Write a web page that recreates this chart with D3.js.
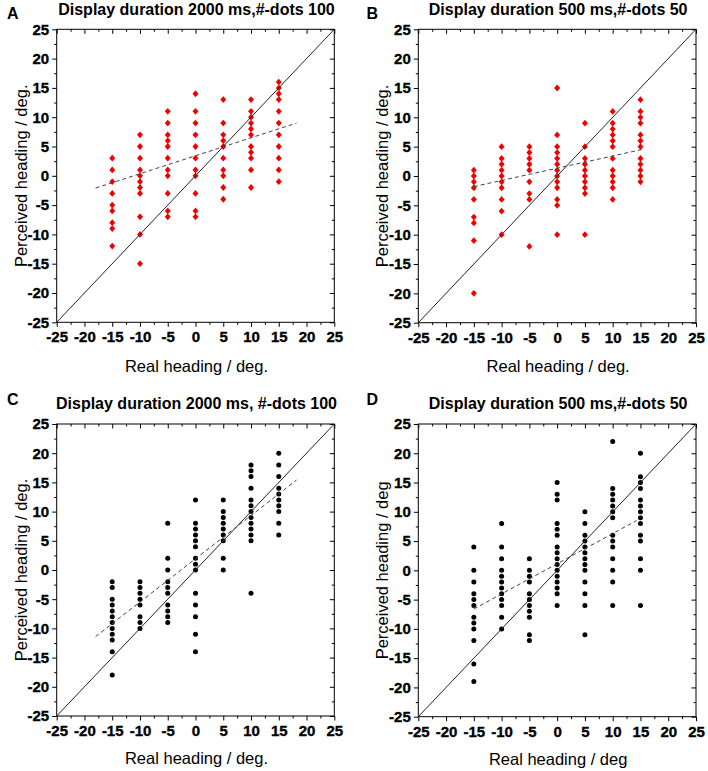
<!DOCTYPE html>
<html><head><meta charset="utf-8">
<script src="https://cdn.jsdelivr.net/npm/d3@7"></script>
<style>body{margin:0;background:#fff} svg{display:block}
.tk text{font-family:'Liberation Sans',Arial,Helvetica,sans-serif;font-size:15px;font-weight:700;fill:#000;stroke:#000;stroke-width:0.35px}
</style>
</head><body><svg id="c" width="708" height="771"></svg>
<script>
// Real heading categories (deg.)
const headings = [-15, -10, -5, 0, 5, 10, 15];
const tickValues = [-25, -20, -15, -10, -5, 0, 5, 10, 15, 20, 25];
const minorTicks = [-22.5, -17.5, -12.5, -7.5, -2.5, 2.5, 7.5, 12.5, 17.5, 22.5];

// Perceived heading per real heading (one list per column)
const perceivedA = [
  [3, 1, -1, -3, -5, -6, -8, -9, -12],
  [7, 5, 3, 1, 0, -1, -2, -3, -7, -10, -15],
  [11, 9, 7, 6, 5, 3, 1, 0, -3, -6, -7],
  [14, 11, 9, 7, 5, 3, 1, 0, -3, -6, -7],
  [13, 9, 7, 6, 5, 3, 1, 0, -2, -4],
  [13, 11, 10, 9, 8, 7, 5, 4, 3, 1, -2],
  [16, 15, 14, 13, 11, 9, 7, 5, 3, 1, -1]
];
const perceivedB = [
  [1, 0, -1, -2, -4, -7, -8, -11, -20],
  [5, 3, 2, 1, 0, -1, -2, -4, -6, -10],
  [5, 4, 3, 2, 1, -1, -3, -4, -12],
  [15, 7, 5, 4, 3, 2, 1, 0, -1, -2, -4, -5, -10],
  [9, 5, 3, 2, 1, 0, -1, -2, -3, -10],
  [11, 9, 8, 7, 6, 5, 3, 1, 0, -1, -2, -4],
  [13, 11, 10, 9, 7, 6, 5, 3, 2, 1, 0, -1]
];
const perceivedC = [
  [-2, -3, -5, -6, -7, -8, -9, -10, -11, -12, -14, -18],
  [-2, -3, -4, -5, -6, -8, -9, -10],
  [8, 2, 0, -2, -3, -4, -6, -7, -8, -9],
  [12, 8, 7, 6, 5, 4, 2, 1, 0, -4, -6, -8, -11, -14],
  [12, 10, 9, 8, 7, 6, 5, 2, 0],
  [18, 17, 16, 14, 12, 11, 10, 9, 8, 7, 6, 5, -4],
  [20, 18, 16, 14, 13, 12, 11, 10, 8, 6]
];
const perceivedD = [
  [4, 0, -2, -4, -5, -6, -8, -9, -10, -12, -16, -19],
  [8, 4, 2, 0, -1, -2, -3, -4, -5, -6, -8, -10],
  [2, 0, -1, -2, -4, -5, -6, -7, -8, -11, -12],
  [15, 13, 12, 8, 7, 6, 4, 3, 2, 1, 0, -1, -2, -3, -4, -6],
  [10, 8, 6, 5, 4, 3, 2, 1, 0, -2, -4, -6, -11],
  [22, 14, 13, 12, 11, 10, 9, 6, 5, 4, 2, 0, -2, -6],
  [20, 16, 15, 14, 12, 11, 10, 9, 8, 6, 5, 2, 0, -6]
];

// Regression line end points [real, perceived]
const fitA = [[-18, -2.1], [18.2, 9]];
const fitB = [[-15, -1.8], [15.2, 4.5]];
const fitC = [[-18, -11.4], [18.2, 15.4]];
const fitD = [[-15, -6.6], [14.3, 8.5]];

const panels = [
  {letter: "A", title: "Display duration 2000 ms,#-dots 100", data: perceivedA, fit: fitA, marker: "diamond",
   box: {l: 56.7, r: 334.3, t: 29.3, b: 322.3}, titleY: 15, letterX: 7, letterY: 18.5, yTitleX: 21, xTitleY: 366,
   xLabel: "Real heading / deg.", yLabel: "Perceived heading / deg."},
  {letter: "B", title: "Display duration 500 ms,#-dots 50", data: perceivedB, fit: fitB, marker: "diamond",
   box: {l: 418.3, r: 696, t: 29.3, b: 322.7}, titleY: 15, letterX: 366.5, letterY: 18.5, yTitleX: 382, xTitleY: 366,
   xLabel: "Real heading / deg.", yLabel: "Perceived heading / deg."},
  {letter: "C", title: "Display duration 2000 ms, #-dots 100", data: perceivedC, fit: fitC, marker: "circle",
   box: {l: 56.7, r: 334.3, t: 424, b: 716}, titleY: 409, letterX: 7, letterY: 404.5, yTitleX: 21, xTitleY: 758,
   xLabel: "Real heading / deg.", yLabel: "Perceived heading / deg."},
  {letter: "D", title: "Display duration 500 ms,#-dots 50", data: perceivedD, fit: fitD, marker: "circle",
   box: {l: 418.3, r: 696, t: 424, b: 716.7}, titleY: 409, letterX: 366.5, letterY: 404.5, yTitleX: 382, xTitleY: 759,
   xLabel: "Real heading / deg", yLabel: "Perceived heading / deg"}
];

const svg = d3.select("#c");
const FONT = "'Liberation Sans', Arial, Helvetica, sans-serif";
const fmt = d => String(d);

panels.forEach(p => {
  const B = p.box;
  const x = d3.scaleLinear().domain([-25, 25]).range([B.l, B.r]);
  const y = d3.scaleLinear().domain([-25, 25]).range([B.b, B.t]);
  const g = svg.append("g");

  // minor ticks
  const minorAx = [
    [d3.axisBottom(x).tickValues(minorTicks).tickSize(2.5).tickFormat(""), B.b, "x"],
    [d3.axisTop(x).tickValues(minorTicks).tickSize(-2.5).tickFormat(""), B.t, "x"],
    [d3.axisLeft(y).tickValues(minorTicks).tickSize(2.5).tickFormat(""), B.l, "y"],
    [d3.axisRight(y).tickValues(minorTicks).tickSize(-2.5).tickFormat(""), B.r, "y"]
  ];
  minorAx.forEach(([ax, pos, dir]) => {
    const a = g.append("g").attr("transform", dir === "x" ? `translate(0,${pos})` : `translate(${pos},0)`).call(ax);
    a.select(".domain").remove();
    a.selectAll("line").attr("stroke", "#000").attr("stroke-width", 1);
  });

  // major axes
  const xb = g.append("g").attr("transform", `translate(0,${B.b})`)
    .call(d3.axisBottom(x).tickValues(tickValues).tickSize(4.5).tickPadding(5).tickFormat(fmt));
  const xt = g.append("g").attr("transform", `translate(0,${B.t})`)
    .call(d3.axisTop(x).tickValues(tickValues).tickSize(-4.5).tickFormat(""));
  const yl = g.append("g").attr("transform", `translate(${B.l},0)`)
    .call(d3.axisLeft(y).tickValues(tickValues).tickSize(4.5).tickPadding(3).tickFormat(fmt));
  const yr = g.append("g").attr("transform", `translate(${B.r},0)`)
    .call(d3.axisRight(y).tickValues(tickValues).tickSize(-4.5).tickFormat(""));
  [xb, xt, yl, yr].forEach(a => {
    a.attr("class", "tk").attr("font-family", null).attr("font-size", null);
    a.select(".domain").remove();
    a.selectAll("line").attr("stroke", "#000").attr("stroke-width", 1);
    a.selectAll("text").attr("fill", null);
  });

  // frame
  g.append("rect").attr("x", B.l).attr("y", B.t).attr("width", B.r - B.l).attr("height", B.b - B.t)
    .attr("fill", "none").attr("stroke", "#000").attr("stroke-width", 1);

  // points
  const pts = [];
  p.data.forEach((col, i) => col.forEach(v => pts.push([headings[i], v])));
  if (p.marker === "diamond") {
    g.append("g").selectAll("path").data(pts).join("path")
      .attr("transform", d => `translate(${x(d[0])},${y(d[1])})`)
      .attr("d", "M0,-3.4L3,0L0,3.4L-3,0Z")
      .attr("fill", "#f20000");
  } else {
    g.append("g").selectAll("circle").data(pts).join("circle")
      .attr("cx", d => x(d[0])).attr("cy", d => y(d[1])).attr("r", 2.5)
      .attr("fill", "#000");
  }

  // identity line
  const line = d3.line().x(d => x(d[0])).y(d => y(d[1]));
  g.append("path").datum([[-25, -25], [25, 25]]).attr("d", line)
    .attr("stroke", "#222").attr("stroke-width", 1).attr("fill", "none");
  // regression line
  g.append("path").datum(p.fit).attr("d", line)
    .attr("stroke", "#444").attr("stroke-width", 1).attr("stroke-dasharray", "4,3").attr("fill", "none");

  // titles
  g.append("text").attr("x", (B.l + B.r) / 2 + 1).attr("y", p.titleY).attr("text-anchor", "middle")
    .style("font-family", FONT).style("font-size", "16px").style("font-weight", "bold").text(p.title);
  g.append("text").attr("x", p.letterX).attr("y", p.letterY)
    .style("font-family", FONT).style("font-size", "16px").style("font-weight", "bold").text(p.letter);
  g.append("text").attr("x", (B.l + B.r) / 2 + 1).attr("y", p.xTitleY).attr("dy", "0.35em").attr("text-anchor", "middle")
    .style("font-family", FONT).style("font-size", "16.5px").text(p.xLabel);
  g.append("text").attr("transform", `translate(${p.yTitleX},${(B.t + B.b) / 2}) rotate(-90)`)
    .attr("dy", "0.35em").attr("text-anchor", "middle")
    .style("font-family", FONT).style("font-size", "16.5px").text(p.yLabel);
});
</script>
</body></html>
